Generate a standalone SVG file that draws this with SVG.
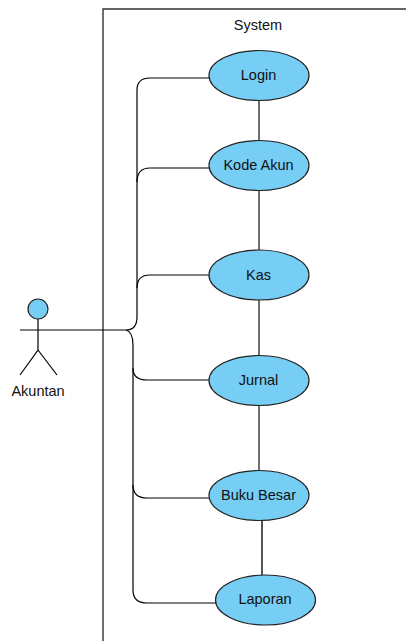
<svg xmlns="http://www.w3.org/2000/svg" width="406" height="641" viewBox="0 0 406 641">
<style>
.line{fill:none;stroke:#000;stroke-width:1.2}
.uc{fill:#76CEF5;stroke:#222;stroke-width:1.2}
.gray{fill:none;stroke:#333;stroke-width:1.4}
.thick{fill:none;stroke:#555;stroke-width:2}
text{font-family:"Liberation Sans",Arial,sans-serif;font-size:14.5px;fill:#111;text-anchor:middle}
</style>
<rect width="406" height="641" fill="#fff"/>
<g id="system">
<path class="gray" d="M103 641V9H406"/>
<text x="258" y="30">System</text>
</g>
<g id="connectors">
<path class="line" d="M57 330H126Q137 330 137 317V90Q137 78 150 78H210"/>
<path class="line" d="M137 182Q137 168 150 168H210"/>
<path class="line" d="M137 288Q137 275 150 275H210"/>
<path class="line" d="M126 330Q133 332 133 345V590Q133 603 147 603H216"/>
<path class="line" d="M133 368Q133 380 147 380H210"/>
<path class="line" d="M133 485Q133 498 147 498H210"/>
<path class="gray" d="M259 100V141M259 190V250M259 300V356M259 405V471"/>
<path class="thick" d="M262 520V575"/>
</g>
<g id="actor">
<circle class="uc" cx="38" cy="309" r="10"/>
<path class="line" d="M20 330H57M38 319V350L20 375M38 350L57 375"/>
<text x="38" y="396">Akuntan</text>
</g>
<g id="login"><ellipse class="uc" cx="259" cy="75.500" rx="50" ry="25"/><text x="258.500" y="80">Login</text></g>
<g id="kode-akun"><ellipse class="uc" cx="259" cy="165.500" rx="50" ry="25"/><text x="258.500" y="170">Kode Akun</text></g>
<g id="kas"><ellipse class="uc" cx="259" cy="275" rx="50" ry="25"/><text x="258.500" y="280">Kas</text></g>
<g id="jurnal"><ellipse class="uc" cx="259" cy="380.500" rx="50" ry="25"/><text x="258.500" y="385">Jurnal</text></g>
<g id="buku-besar"><ellipse class="uc" cx="259" cy="495.500" rx="50" ry="25"/><text x="258.500" y="500">Buku Besar</text></g>
<g id="laporan"><ellipse class="uc" cx="265.500" cy="600" rx="50" ry="25"/><text x="265" y="604">Laporan</text></g>
</svg>
